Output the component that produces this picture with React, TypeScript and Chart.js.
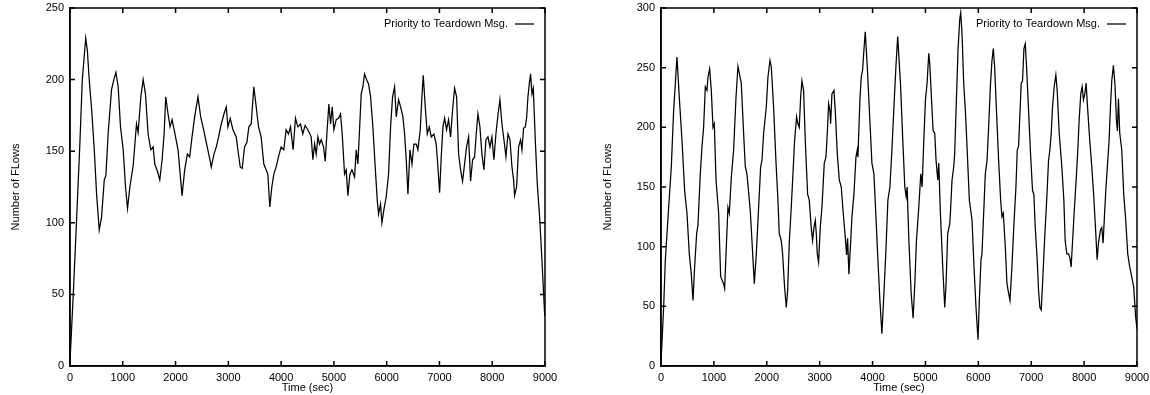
import React, { useEffect, useRef } from "react";
import { Chart, registerables } from "chart.js";

Chart.register(...registerables);

const SERIES_LABEL = "Priority to Teardown Msg.";
const X_TITLE = "Time (sec)";
const Y_TITLE = "Number of FLows";
const X_MAX = 9000;
const X_STEP = 1000;
const Y_STEP = 50;
const LEFT_Y_MAX = 250;
const RIGHT_Y_MAX = 300;

const LEFT_TIME = [
  0, 63, 127, 190, 233, 298, 330, 360, 410, 460, 504, 554, 598, 649, 680, 724, 787, 831, 869, 913,
  957, 1008, 1052, 1090, 1134, 1197, 1260, 1291, 1342, 1386, 1430, 1480, 1531, 1575, 1606, 1657, 1701, 1745, 1783, 1814,
  1858, 1896, 1934, 1984, 2047, 2123, 2173, 2224, 2268, 2312, 2362, 2425, 2476, 2520, 2583, 2646, 2677, 2728, 2772, 2816,
  2866, 2917, 2961, 2992, 3036, 3087, 3150, 3181, 3225, 3263, 3307, 3351, 3389, 3433, 3483, 3528, 3572, 3622, 3672, 3716,
  3748, 3786, 3824, 3862, 3906, 3950, 4000, 4051, 4095, 4140, 4178, 4228, 4272, 4317, 4367, 4411, 4455, 4506, 4532, 4570,
  4602, 4634, 4665, 4697, 4728, 4760, 4804, 4836, 4867, 4905, 4937, 4968, 5000, 5044, 5088, 5126, 5158, 5202, 5234, 5265,
  5303, 5341, 5392, 5423, 5455, 5486, 5518, 5550, 5581, 5619, 5657, 5695, 5739, 5783, 5821, 5846, 5884, 5910, 5947, 5991,
  6036, 6074, 6112, 6150, 6181, 6226, 6264, 6308, 6340, 6371, 6403, 6441, 6479, 6516, 6560, 6592, 6636, 6668, 6693, 6731,
  6769, 6807, 6845, 6895, 6939, 6971, 7003, 7034, 7066, 7098, 7135, 7173, 7211, 7249, 7287, 7325, 7363, 7401, 7438, 7476,
  7514, 7552, 7590, 7628, 7666, 7697, 7729, 7767, 7805, 7843, 7881, 7919, 7957, 7994, 8032, 8070, 8108, 8146, 8184, 8222,
  8260, 8298, 8336, 8374, 8405, 8424, 8462, 8500, 8538, 8563, 8594, 8626, 8651, 8677, 8702, 8727, 8753, 8778, 8816, 8854,
  8898, 8942, 8995,
];
const LEFT_FLOWS = [
  3, 51, 104, 158, 200, 229, 220, 202, 179, 151, 120, 95, 104, 130, 133, 163, 193, 200, 205, 195,
  167, 151, 125, 110, 125, 140, 169, 163, 188, 200, 190, 162, 151, 153, 141, 136, 130, 144, 162, 188,
  176, 167, 172, 163, 151, 119, 137, 148, 146, 160, 174, 188, 174, 167, 156, 145, 139, 148, 153, 160,
  169, 176, 181, 167, 173, 165, 160, 151, 139, 138, 153, 156, 167, 169, 195, 181, 167, 160, 141, 137,
  134, 111, 125, 134, 139, 146, 153, 151, 165, 162, 167, 151, 173, 167, 169, 162, 168, 165, 163, 160,
  144, 155, 148, 160, 155, 158, 153, 143, 162, 183, 169, 181, 165, 172, 173, 176, 162, 134, 137, 119,
  134, 137, 132, 151, 141, 165, 190, 195, 204, 200, 197, 188, 167, 139, 116, 106, 113, 100, 109, 118,
  134, 167, 188, 195, 174, 186, 181, 174, 162, 144, 120, 151, 141, 155, 155, 151, 165, 188, 203, 181,
  162, 167, 160, 162, 155, 139, 121, 146, 167, 173, 165, 172, 160, 179, 194, 188, 148, 137, 129, 141,
  153, 160, 129, 144, 146, 162, 176, 167, 148, 137, 158, 160, 153, 160, 144, 162, 175, 186, 169, 158,
  146, 162, 158, 139, 130, 119, 125, 153, 158, 151, 166, 167, 173, 188, 197, 204, 190, 194, 158, 127,
  104, 74, 35,
];

const RIGHT_TIME = [
  0, 50, 82, 145, 195, 239, 302, 346, 397, 447, 491, 535, 573, 605, 636, 674, 699, 743, 775, 806,
  838, 869, 888, 920, 951, 983, 1008, 1040, 1090, 1128, 1153, 1184, 1203, 1235, 1266, 1292, 1329, 1373, 1418, 1455,
  1481, 1518, 1562, 1594, 1625, 1670, 1688, 1720, 1764, 1802, 1846, 1884, 1909, 1940, 1959, 1991, 2022, 2060, 2085, 2129,
  2173, 2211, 2236, 2274, 2299, 2337, 2369, 2394, 2425, 2463, 2495, 2526, 2564, 2589, 2614, 2640, 2665, 2696, 2728, 2772,
  2803, 2841, 2866, 2892, 2917, 2936, 2955, 2980, 3011, 3043, 3087, 3119, 3144, 3169, 3194, 3207, 3232, 3270, 3295, 3333,
  3371, 3408, 3446, 3484, 3509, 3528, 3553, 3585, 3610, 3648, 3686, 3711, 3723, 3761, 3786, 3812, 3837, 3862, 3900, 3937,
  3988, 4026, 4064, 4101, 4139, 4177, 4215, 4253, 4290, 4328, 4366, 4404, 4442, 4475, 4528, 4572, 4610, 4635, 4654, 4686,
  4730, 4767, 4799, 4830, 4874, 4912, 4937, 4969, 5000, 5031, 5063, 5082, 5113, 5145, 5176, 5201, 5233, 5252, 5283, 5327,
  5365, 5390, 5421, 5459, 5472, 5503, 5535, 5553, 5585, 5616, 5648, 5667, 5692, 5723, 5755, 5786, 5830, 5881, 5918, 5956,
  5994, 6019, 6050, 6069, 6101, 6132, 6164, 6195, 6227, 6258, 6283, 6308, 6346, 6384, 6422, 6447, 6472, 6510, 6541, 6572,
  6598, 6635, 6673, 6711, 6736, 6761, 6786, 6811, 6836, 6862, 6887, 6912, 6950, 6987, 7025, 7050, 7076, 7113, 7139, 7164,
  7189, 7214, 7252, 7296, 7327, 7352, 7378, 7403, 7434, 7466, 7491, 7529, 7579, 7617, 7642, 7673, 7705, 7730, 7755, 7780,
  7818, 7856, 7881, 7906, 7937, 7963, 7988, 8013, 8038, 8069, 8107, 8145, 8183, 8221, 8246, 8271, 8309, 8334, 8359, 8384,
  8410, 8447, 8472, 8498, 8523, 8554, 8586, 8611, 8630, 8649, 8674, 8712, 8749, 8787, 8825, 8862, 8900, 8938, 8975, 9000,
];
const RIGHT_FLOWS = [
  3, 49, 89, 133, 167, 214, 259, 225, 189, 147, 128, 94, 77, 55, 83, 111, 118, 161, 184, 200,
  234, 231, 242, 249, 231, 200, 203, 156, 128, 75, 72, 69, 65, 100, 133, 128, 158, 181, 225, 251,
  245, 237, 195, 167, 161, 139, 130, 105, 69, 94, 133, 167, 172, 195, 203, 217, 242, 256, 251, 217,
  172, 139, 111, 105, 94, 66, 49, 63, 103, 133, 161, 189, 209, 203, 200, 225, 239, 231, 189, 144,
  139, 116, 105, 116, 122, 111, 94, 87, 116, 133, 170, 175, 195, 220, 214, 203, 228, 231, 214, 178,
  156, 150, 128, 108, 93, 107, 77, 103, 125, 144, 175, 181, 175, 223, 242, 248, 265, 280, 251, 217,
  170, 161, 125, 89, 55, 27, 61, 97, 139, 150, 181, 217, 251, 276, 237, 189, 150, 142, 150, 106,
  61, 40, 69, 105, 133, 161, 150, 189, 223, 237, 262, 253, 225, 197, 195, 172, 156, 170, 128, 83,
  49, 69, 111, 119, 128, 156, 167, 178, 223, 265, 290, 296, 278, 237, 214, 184, 139, 122, 83, 49,
  22, 55, 89, 94, 128, 161, 172, 200, 234, 256, 266, 251, 211, 172, 139, 125, 128, 100, 69, 61,
  55, 83, 119, 150, 181, 184, 211, 237, 239, 266, 270, 251, 214, 178, 147, 144, 116, 89, 63, 49,
  47, 69, 105, 142, 172, 181, 195, 217, 234, 244, 231, 195, 167, 139, 105, 94, 94, 91, 83, 103,
  133, 161, 181, 206, 228, 234, 223, 228, 237, 214, 189, 167, 142, 111, 89, 103, 114, 116, 103, 125,
  147, 172, 189, 217, 239, 252, 234, 206, 197, 224, 195, 181, 144, 122, 94, 83, 75, 66, 41, 31,
];

const FONT_FAMILY = "'Liberation Sans', Arial, Helvetica, sans-serif";
const FONT_SIZE = 11;
const INK = "#000";
const TICK_LEN = 5;
const FRAME_WIDTH = 1.5;
const DATA_WIDTH = 1.25;

const gnuFrame = {
  id: "gnuFrame",
  afterDraw(chart: any) {
    const { ctx, chartArea: a, scales } = chart;
    const L = a.left;
    const R = a.right;
    const T = a.top;
    const B = a.bottom;
    ctx.save();
    ctx.lineWidth = FRAME_WIDTH;
    ctx.strokeStyle = INK;
    ctx.setLineDash([]);
    ctx.lineCap = "square";
    ctx.strokeRect(L, T, R - L, B - T);
    ctx.beginPath();
    ctx.lineCap = "butt";
    scales.x.ticks.forEach((t: any) => {
      const p = scales.x.getPixelForValue(t.value);
      ctx.moveTo(p, B);
      ctx.lineTo(p, B - TICK_LEN);
      ctx.moveTo(p, T);
      ctx.lineTo(p, T + TICK_LEN);
    });
    scales.y.ticks.forEach((t: any) => {
      const p = scales.y.getPixelForValue(t.value);
      ctx.moveTo(L, p);
      ctx.lineTo(L + TICK_LEN, p);
      ctx.moveTo(R, p);
      ctx.lineTo(R - TICK_LEN, p);
    });
    ctx.stroke();

    // key (gnuplot style: text then line sample)
    const label = chart.data.datasets[0].label;
    const ky = a.top + 16;
    ctx.fillStyle = INK;
    ctx.font = `${FONT_SIZE}px ${FONT_FAMILY}`;
    ctx.textAlign = "right";
    ctx.textBaseline = "middle";
    ctx.fillText(label, a.right - 37, ky);
    ctx.beginPath();
    ctx.lineWidth = DATA_WIDTH;
    ctx.moveTo(a.right - 30, ky);
    ctx.lineTo(a.right - 11, ky);
    ctx.stroke();
    ctx.restore();
  },
};

type PanelProps = {
  times: number[];
  flows: number[];
  yMax: number;
  left: number;
  yAxisWidth: number;
  padRight: number;
  yTitlePad: number;
};

function Panel({ times, flows, yMax, left, yAxisWidth, padRight, yTitlePad }: PanelProps) {
  const ref = useRef<HTMLCanvasElement | null>(null);
  useEffect(() => {
    if (!ref.current) return;
    const font = { family: FONT_FAMILY, size: FONT_SIZE };
    const points = times.map((t, i) => ({ x: t, y: flows[i] }));
    const chart = new Chart(ref.current, {
      type: "line",
      data: {
        datasets: [
          {
            label: SERIES_LABEL,
            data: points,
            borderColor: INK,
            borderWidth: DATA_WIDTH,
            pointRadius: 0,
            tension: 0,
            fill: false,
          },
        ],
      },
      options: {
        animation: false,
        responsive: false,
        devicePixelRatio: 1,
        layout: { padding: { left: 0, right: padRight, top: 8, bottom: 0 } },
        plugins: { legend: { display: false }, tooltip: { enabled: false } },
        scales: {
          x: {
            type: "linear",
            position: "bottom",
            min: 0,
            max: X_MAX,
            ticks: {
              stepSize: X_STEP,
              autoSkip: false,
              maxRotation: 0,
              padding: 5,
              color: INK,
              font,
              callback: (v: any) => String(v),
            },
            grid: { display: false, drawTicks: false },
            border: { display: true, color: INK, width: FRAME_WIDTH },
            title: { display: true, text: X_TITLE, color: INK, font, padding: { top: 0, bottom: 0 } },
            afterFit: (s: any) => {
              s.height = 29;
              s.paddingLeft = 0;
              s.paddingRight = 0;
            },
          },
          y: {
            type: "linear",
            position: "left",
            min: 0,
            max: yMax,
            ticks: {
              stepSize: Y_STEP,
              autoSkip: false,
              padding: 6,
              color: INK,
              font,
              callback: (v: any) => String(v),
            },
            grid: { display: false, drawTicks: false },
            border: { display: true, color: INK, width: FRAME_WIDTH },
            title: { display: true, text: Y_TITLE, color: INK, font, padding: { top: yTitlePad, bottom: 0 } },
            afterFit: (s: any) => {
              s.width = yAxisWidth;
              s.paddingTop = 0;
              s.paddingBottom = 0;
            },
          },
        },
      } as any,
      plugins: [gnuFrame],
    });
    return () => chart.destroy();
  }, [times, flows, yMax, yAxisWidth, padRight, yTitlePad]);

  return (
    <canvas
      ref={ref}
      width={575}
      height={395}
      style={{ position: "absolute", left, top: 0, width: 575, height: 395 }}
    />
  );
}

export default function App() {
  return (
    <div
      style={{
        position: "absolute",
        left: 0,
        top: 0,
        width: 1150,
        height: 395,
        background: "#fff",
        overflow: "hidden",
      }}
    >
      <Panel times={LEFT_TIME} flows={LEFT_FLOWS} yMax={LEFT_Y_MAX} left={0} yAxisWidth={70} padRight={30} yTitlePad={9} />
      <Panel times={RIGHT_TIME} flows={RIGHT_FLOWS} yMax={RIGHT_Y_MAX} left={575} yAxisWidth={86} padRight={13} yTitlePad={26} />
    </div>
  );
}
